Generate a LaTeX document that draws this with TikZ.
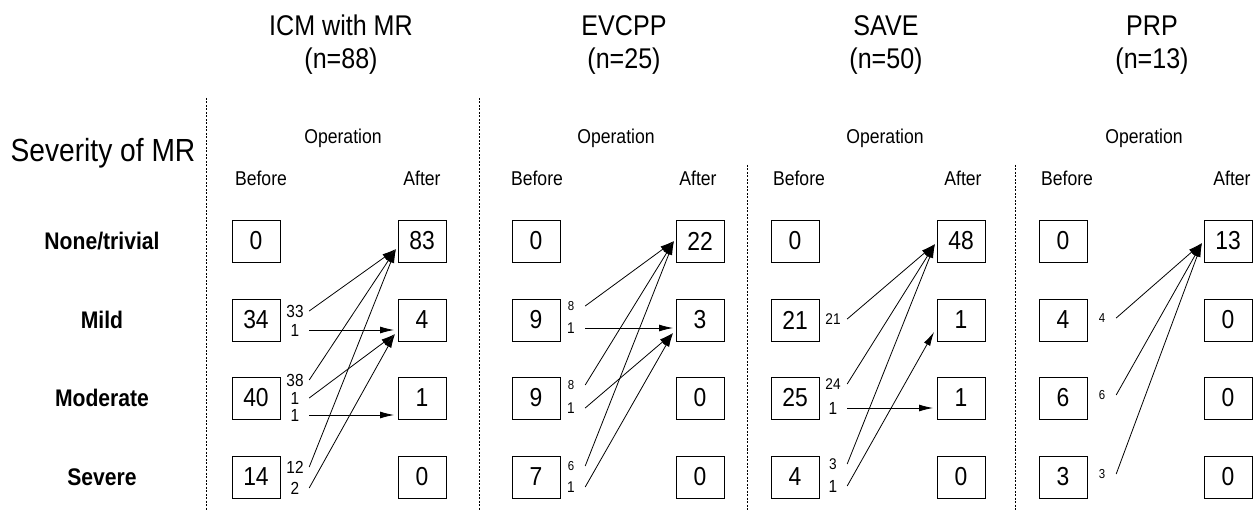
\documentclass[tikz,border=0pt]{standalone}
\usepackage{fontspec}
\setmainfont{Liberation Sans}[FakeStretch=0.88]
\usetikzlibrary{arrows.meta}

\begin{document}
\begin{tikzpicture}[x=1pt,y=-1pt]

\tikzset{Box/.style   = {draw, line width=.9pt, minimum width=48pt, minimum height=42pt,
                         inner sep=0pt, font=\fontsize{26}{26}\selectfont},
         Count/.style = {minimum width=28pt, inner sep=0pt, font=\fontsize{17.5}{17.5}\selectfont},
         Mid/.style   = {Count, font=\fontsize{15.5}{15.5}\selectfont},
         Tiny/.style  = {Count, font=\fontsize{13}{13}\selectfont},
         Head/.style  = {font=\fontsize{28.5}{33}\selectfont, align=center},
         Col/.style   = {font=\fontsize{20}{20}\selectfont},
         Row/.style   = {font=\fontsize{24}{24}\selectfont\bfseries},
         Flow/.style  = {line width=.8pt, -{Latex[length=14pt,width=7pt]}},
         Sep/.style   = {line width=.8pt, dash pattern=on 2pt off 1.5pt}}

\useasboundingbox (0,0) rectangle (1256,510);

% headings
\node[Head] (hICM) at (341,45) {ICM with MR\\(n=88)};
\node[Head] (hEV)  at (624,45) {EVCPP\\(n=25)};
\node[Head] (hSA)  at (886,45) {SAVE\\(n=50)};
\node[Head] (hPR)  at (1152,45) {PRP\\(n=13)};

\node[font=\fontsize{32}{32}\selectfont] (sev) at (103,153) {Severity of MR};

\node[Row] (rNone) at (102,241) {None/trivial};
\node[Row] (rMild) at (102,320) {Mild};
\node[Row] (rMod)  at (102,398) {Moderate};
\node[Row] (rSev)  at (102,477) {Severe};

\node[Col] (opICM) at (343,138) {Operation};
\node[Col] (opEV)  at (616,138) {Operation};
\node[Col] (opSA)  at (885,138) {Operation};
\node[Col] (opPR)  at (1144,138) {Operation};

\node[Col] (bICM) at (261,178) {Before};
\node[Col] (aICM) at (422,178) {After};
\node[Col] (bEV)  at (537,178) {Before};
\node[Col] (aEV)  at (698,178) {After};
\node[Col] (bSA)  at (799,178) {Before};
\node[Col] (aSA)  at (963,178) {After};
\node[Col] (bPR)  at (1067,178) {Before};
\node[Col] (aPR)  at (1232,178) {After};

\draw[Sep] (206,98) -- (206,510);
\draw[Sep] (479,98) -- (479,510);
\draw[Sep] (747,165) -- (747,510);
\draw[Sep] (1015,165) -- (1015,510);

% ICM with MR
\node[Box] (icmB1) at (256,241) {0};
\node[Box] (icmB2) at (256,320) {34};
\node[Box] (icmB3) at (256,398) {40};
\node[Box] (icmB4) at (256,477) {14};
\node[Box] (icmA1) at (422,241) {83};
\node[Box] (icmA2) at (422,320) {4};
\node[Box] (icmA3) at (422,398) {1};
\node[Box] (icmA4) at (422,477) {0};

\coordinate (icmT1) at (396,249);
\coordinate (icmT2) at (395,334);
\coordinate (icmH2) at (394,330);
\coordinate (icmH3) at (394,415);

\node[Count] (icm2a) at (295,311) {33};
\node[Count] (icm2b) at (295,330) {1};
\node[Count] (icm3a) at (295,380) {38};
\node[Count] (icm3b) at (295,398) {1};
\node[Count] (icm3c) at (295,415) {1};
\node[Count] (icm4a) at (295,467) {12};
\node[Count] (icm4b) at (295,488) {2};

\draw[Flow] (icm2a.east) -- (icmT1);
\draw[Flow] (icm2b.east) -- (icmH2);
\draw[Flow] (icm3a.east) -- (icmT1);
\draw[Flow] (icm3b.east) -- (icmT2);
\draw[Flow] (icm3c.east) -- (icmH3);
\draw[Flow] (icm4a.east) -- (icmT1);
\draw[Flow] (icm4b.east) -- (icmT2);

% EVCPP
\node[Box] (evB1) at (536,241) {0};
\node[Box] (evB2) at (536,320) {9};
\node[Box] (evB3) at (536,398) {9};
\node[Box] (evB4) at (536,477) {7};
\node[Box] (evA1) at (700,241) {22};
\node[Box] (evA2) at (700,320) {3};
\node[Box] (evA3) at (700,398) {0};
\node[Box] (evA4) at (700,477) {0};

\coordinate (evT1) at (674,241);
\coordinate (evT2) at (673,333);
\coordinate (evH2) at (673,328);

\node[Tiny] (ev2a) at (571,306) {8};
\node[Mid]  (ev2b) at (571,328) {1};
\node[Tiny] (ev3a) at (571,385) {8};
\node[Mid]  (ev3b) at (571,408) {1};
\node[Tiny] (ev4a) at (571,466) {6};
\node[Mid]  (ev4b) at (571,487) {1};

\draw[Flow] (ev2a.east) -- (evT1);
\draw[Flow] (ev2b.east) -- (evH2);
\draw[Flow] (ev3a.east) -- (evT1);
\draw[Flow] (ev3b.east) -- (evT2);
\draw[Flow] (ev4a.east) -- (evT1);
\draw[Flow] (ev4b.east) -- (evT2);

% SAVE
\node[Box] (saB1) at (795,241) {0};
\node[Box] (saB2) at (795,320) {21};
\node[Box] (saB3) at (795,398) {25};
\node[Box] (saB4) at (795,477) {4};
\node[Box] (saA1) at (961,241) {48};
\node[Box] (saA2) at (961,320) {1};
\node[Box] (saA3) at (961,398) {1};
\node[Box] (saA4) at (961,477) {0};

\coordinate (saT1) at (935,244);
\coordinate (saT2) at (934,332);
\coordinate (saH3) at (933,408);

\node[Mid]   (sa2a) at (833,319) {21};
\node[Mid]   (sa3a) at (833,384) {24};
\node[Count] (sa3b) at (833,408) {1};
\node[Mid]   (sa4a) at (833,464) {3};
\node[Count] (sa4b) at (833,486) {1};

\draw[Flow] (sa2a.east) -- (saT1);
\draw[Flow] (sa3a.east) -- (saT1);
\draw[Flow] (sa3b.east) -- (saH3);
\draw[Flow] (sa4a.east) -- (saT1);
\draw[Flow] (sa4b.east) -- (saT2);

% PRP
\node[Box] (prB1) at (1063,241) {0};
\node[Box] (prB2) at (1063,320) {4};
\node[Box] (prB3) at (1063,398) {6};
\node[Box] (prB4) at (1063,477) {3};
\node[Box] (prA1) at (1228,241) {13};
\node[Box] (prA2) at (1228,320) {0};
\node[Box] (prA3) at (1228,398) {0};
\node[Box] (prA4) at (1228,477) {0};

\coordinate (prT1) at (1202,243);

\node[Tiny] (pr2a) at (1102,318) {4};
\node[Tiny] (pr3a) at (1102,395) {6};
\node[Tiny] (pr4a) at (1102,474) {3};

\draw[Flow] (pr2a.east) -- (prT1);
\draw[Flow] (pr3a.east) -- (prT1);
\draw[Flow] (pr4a.east) -- (prT1);

\end{tikzpicture}
\end{document}
